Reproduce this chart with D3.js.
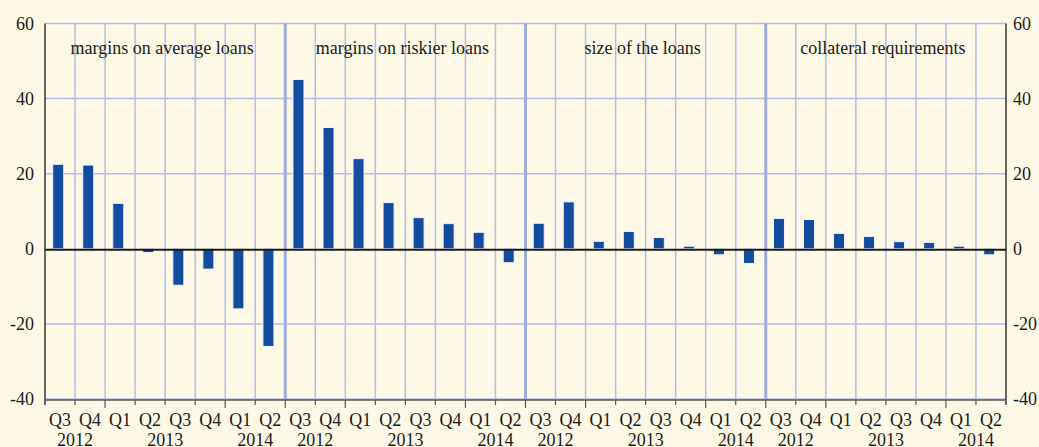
<!DOCTYPE html>
<html>
<head>
<meta charset="utf-8">
<script src="https://cdn.jsdelivr.net/npm/d3@7"></script>
<style>
  body { margin: 0; background: #fef9e7; }
  svg text { font-family: "Liberation Serif", "DejaVu Serif", serif; fill: #1a1a1a; }
</style>
</head>
<body>
<script>
const width = 1039;
const height = 447;

const panels = ["margins on average loans", "margins on riskier loans", "size of the loans", "collateral requirements"];
const quarters = ["Q3", "Q4", "Q1", "Q2", "Q3", "Q4", "Q1", "Q2"];
const years = ["2012", "2013", "2014"];
const yearSpans = [2, 4, 2];
const yTicks = [-40, -20, 0, 20, 40, 60];

const averageLoans = [22.5, 22.3, 12.1, -1.0, -9.7, -5.4, -16.0, -26.0];
const riskierLoans = [45.1, 32.3, 24.0, 12.3, 8.3, 6.7, 4.4, -3.7];
const loanSize = [6.8, 12.5, 2.0, 4.6, 3.0, 0.7, -1.6, -3.9];
const collateral = [8.1, 7.8, 4.1, 3.3, 1.9, 1.7, 0.7, -1.6];

const series = [averageLoans, riskierLoans, loanSize, collateral];

const margin = { top: 23.5, right: 33, bottom: 48, left: 45 };

// flat list of bars
let bars = [];
series.forEach((vals, p) => {
  vals.forEach((v, q) => bars.push({ key: p * 8 + q, panel: p, quarter: quarters[q], value: v }));
});

const x = d3.scaleBand()
  .domain(d3.range(bars.length))
  .range([margin.left, width - margin.right]);

const y = d3.scaleLinear()
  .domain([-40, 60])
  .range([height - margin.bottom, margin.top]);

const svg = d3.select("body")
  .append("svg")
  .attr("width", width)
  .attr("height", height);

svg.append("rect")
  .attr("width", width)
  .attr("height", height)
  .attr("fill", "#fef9e7");

const x0 = margin.left, x1 = width - margin.right;

// horizontal grid
svg.selectAll("line.hgrid")
  .data(yTicks.filter(d => d !== 0))
  .enter().append("line")
  .attr("class", "hgrid")
  .attr("x1", x0).attr("x2", x1)
  .attr("y1", d => y(d)).attr("y2", d => y(d))
  .attr("stroke", "#b3bde6")
  .attr("stroke-width", 1.5);

// vertical grid at every category boundary
svg.selectAll("line.vgrid")
  .data(d3.range(1, bars.length))
  .enter().append("line")
  .attr("class", "vgrid")
  .attr("x1", d => x(d)).attr("x2", d => x(d))
  .attr("y1", y(60)).attr("y2", y(-40))
  .attr("stroke", d => d % 8 === 0 ? "#9eabdc" : "#b3bde6")
  .attr("stroke-width", d => d % 8 === 0 ? 3 : 1.5);

// bars
const barW = 11;
svg.selectAll("rect.bar")
  .data(bars)
  .enter().append("rect")
  .attr("class", "bar")
  .attr("x", d => x(d.key) + x.bandwidth() / 2 - barW / 2 - 1.8)
  .attr("width", barW)
  .attr("y", d => y(Math.max(0, d.value)))
  .attr("height", d => Math.abs(y(d.value) - y(0)))
  .attr("fill", "#114c9e")
  .attr("stroke", "#eef2fb")
  .attr("stroke-width", 1);

// zero line
svg.append("line")
  .attr("x1", x0).attr("x2", x1)
  .attr("y1", y(0) + 1).attr("y2", y(0) + 1)
  .attr("stroke", "#1a1a1a")
  .attr("stroke-width", 2);

// left and right axes
[x0, x1].forEach(px => {
  svg.append("line")
    .attr("x1", px).attr("x2", px)
    .attr("y1", y(60)).attr("y2", y(-40) + 6)
    .attr("stroke", "#333")
    .attr("stroke-width", 1.5);
});

// bottom axis line and ticks
svg.append("line")
  .attr("x1", x0).attr("x2", x1)
  .attr("y1", y(-40) + 1).attr("y2", y(-40) + 1)
  .attr("stroke", "#555")
  .attr("stroke-width", 1.5);

svg.selectAll("line.xtick")
  .data(d3.range(1, bars.length))
  .enter().append("line")
  .attr("class", "xtick")
  .attr("x1", d => x(d)).attr("x2", d => x(d))
  .attr("y1", y(-40) + 1)
  .attr("y2", d => (d % 8 === 2 || d % 8 === 6 || d % 8 === 0) ? y(-40) + 9 : y(-40) + 6)
  .attr("stroke", "#555")
  .attr("stroke-width", 1.2);

// y tick labels, both sides (plain hyphen for negatives, as in the original)
const fmt = d => String(d);
const leftAxis = d3.axisLeft(y).tickValues(yTicks).tickFormat(fmt).tickSize(0).tickPadding(11);
const rightAxis = d3.axisRight(y).tickValues(yTicks).tickFormat(fmt).tickSize(0).tickPadding(7);

svg.append("g")
  .attr("transform", `translate(${x0},0)`)
  .call(leftAxis)
  .call(g => g.select(".domain").remove())
  .selectAll("text")
  .attr("font-size", 18)
  .attr("font-family", "Liberation Serif")
  .attr("fill", "#1a1a1a");

svg.append("g")
  .attr("transform", `translate(${x1},0)`)
  .call(rightAxis)
  .call(g => g.select(".domain").remove())
  .selectAll("text")
  .attr("font-size", 18)
  .attr("font-family", "Liberation Serif")
  .attr("fill", "#1a1a1a");

// quarter labels
svg.selectAll("text.qlabel")
  .data(bars)
  .enter().append("text")
  .attr("class", "qlabel")
  .attr("x", d => x(d.key) + x.bandwidth() / 2)
  .attr("y", 426)
  .attr("text-anchor", "middle")
  .attr("font-size", 18)
  .text(d => d.quarter);

// year labels, centred on their span of quarters
let yearLabels = [];
panels.forEach((p, pi) => {
  let start = pi * 8;
  years.forEach((yr, yi) => {
    yearLabels.push({ label: yr, start: start, span: yearSpans[yi] });
    start += yearSpans[yi];
  });
});

svg.selectAll("text.ylabel")
  .data(yearLabels)
  .enter().append("text")
  .attr("class", "ylabel")
  .attr("x", d => x(d.start) + x.bandwidth() * d.span / 2)
  .attr("y", 446)
  .attr("text-anchor", "middle")
  .attr("font-size", 18)
  .text(d => d.label);

// panel titles
svg.selectAll("text.ptitle")
  .data(panels)
  .enter().append("text")
  .attr("class", "ptitle")
  .attr("x", (d, i) => x(i * 8) + x.bandwidth() * 4 - 3)
  .attr("y", 54)
  .attr("text-anchor", "middle")
  .attr("font-size", 18)
  .text(d => d);
</script>
</body>
</html>
